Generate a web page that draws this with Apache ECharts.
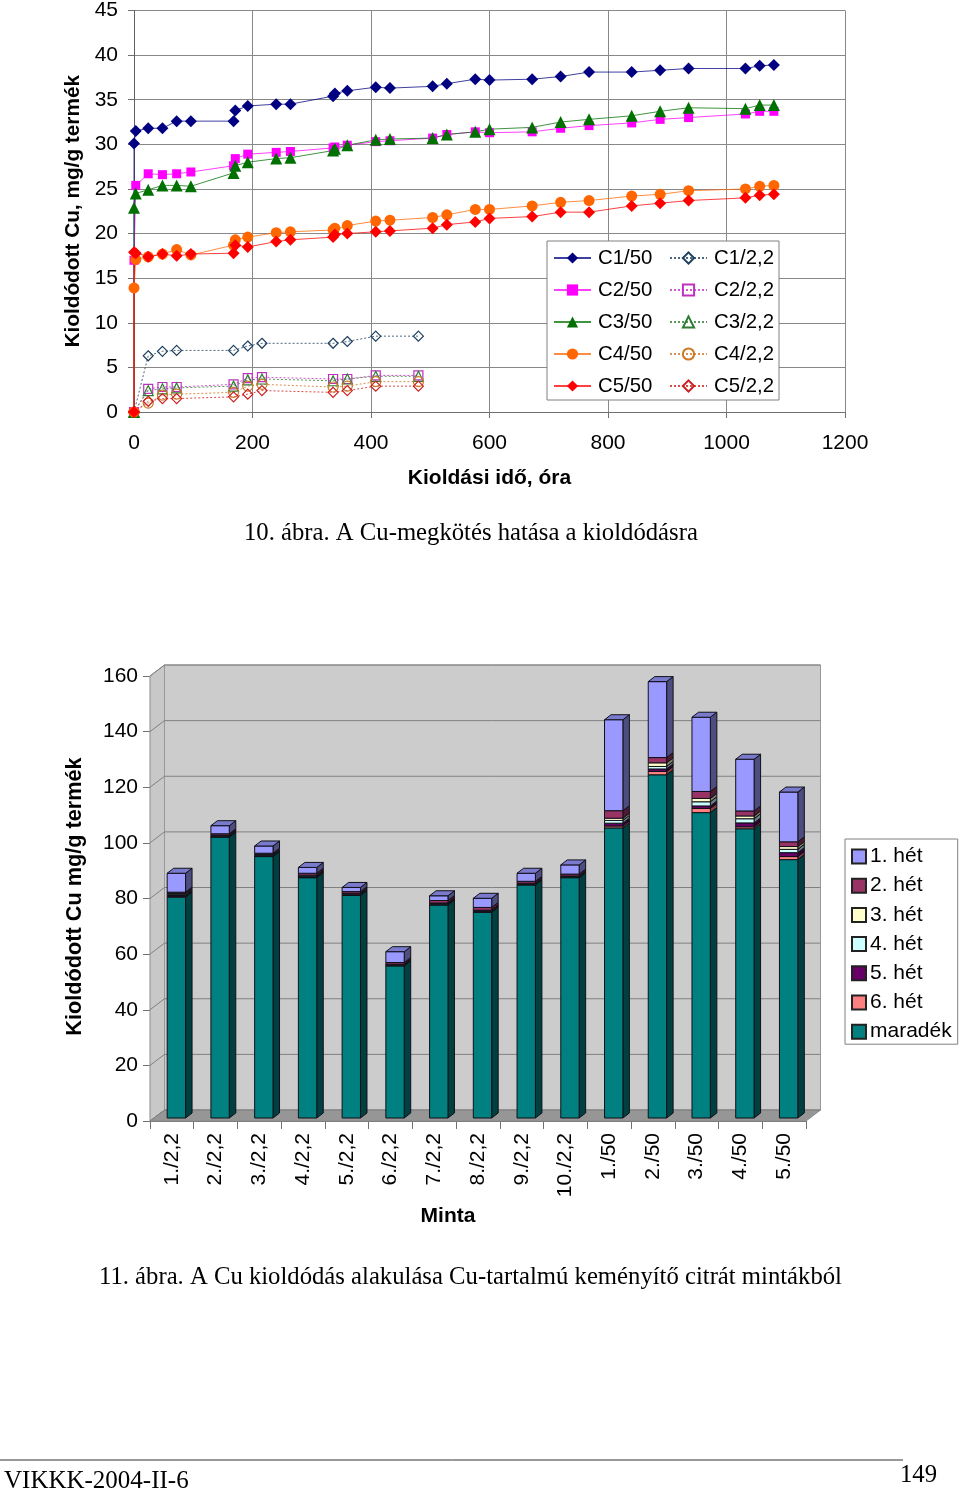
<!DOCTYPE html>
<html>
<head>
<meta charset="utf-8">
<script src="https://cdn.jsdelivr.net/npm/echarts@6/dist/echarts.min.js"></script>
<style>html,body{margin:0;padding:0;background:#fff}#c{width:960px;height:1489px}</style>
</head>
<body>
<div id="c"></div>
<script>
// ---- Chart 1 data ----
const timesLong = [0,0,3,24,48,72,96,168,171,192,240,264,336,339,360,408,432,504,528,576,600,672,720,768,840,888,936,1032,1056,1080];
const timesShort = [0,24,48,72,168,192,216,336,360,408,480];
const c1_50 = [0,30.1,31.5,31.8,31.8,32.6,32.6,32.6,33.8,34.3,34.5,34.5,35.4,35.7,36.0,36.4,36.3,36.5,36.8,37.3,37.2,37.3,37.6,38.1,38.1,38.3,38.5,38.5,38.8,38.9];
const c2_50 = [0,17.0,25.4,26.7,26.6,26.7,26.9,27.6,28.4,28.9,29.1,29.2,29.6,29.7,29.9,30.3,30.4,30.7,31.1,31.4,31.3,31.4,31.8,32.1,32.4,32.8,33.0,33.4,33.7,33.7];
const c3_50 = [0,22.9,24.5,24.9,25.4,25.4,25.3,26.8,27.6,28.0,28.4,28.5,29.3,29.5,29.9,30.5,30.6,30.7,31.1,31.4,31.7,31.9,32.5,32.8,33.2,33.7,34.1,34.0,34.4,34.4];
const c4_50 = [0,13.9,17.1,17.4,17.7,18.2,17.6,18.7,19.3,19.6,20.1,20.2,20.4,20.6,20.9,21.4,21.5,21.8,22.1,22.7,22.7,23.1,23.5,23.7,24.2,24.4,24.8,25.0,25.3,25.4];
const c5_50 = [0,17.9,17.8,17.4,17.7,17.5,17.7,17.8,18.7,18.5,19.1,19.3,19.6,19.9,20.0,20.2,20.3,20.6,21.0,21.3,21.7,21.9,22.4,22.4,23.1,23.4,23.7,24.0,24.3,24.4];
const c1_22 = [0,6.3,6.8,6.9,6.9,7.4,7.7,7.7,7.9,8.5,8.5];
const c2_22 = [0,2.6,2.8,2.8,3.1,3.8,3.9,3.7,3.7,4.1,4.1];
const c3_22 = [0,2.4,2.6,2.7,2.9,3.6,3.7,3.5,3.7,4.0,4.0];
const c4_22 = [0,1.0,1.9,2.0,2.2,2.9,3.1,2.8,2.9,3.4,3.4];
const c5_22 = [0,1.2,1.5,1.5,1.7,2.0,2.4,2.2,2.4,2.9,2.9];

// ---- Chart 2 data ----
const samples = ['1./2,2','2./2,2','3./2,2','4./2,2','5./2,2','6./2,2','7./2,2','8./2,2','9./2,2','10./2,2','1./50','2./50','3./50','4./50','5./50'];
const maradek = [79.4,101,94,86.4,80,54.7,76.6,74,83.8,86.4,104.3,123.4,109.8,104,92.9];
const het6 = [0.3,0.1,0.1,0.1,0.1,0.1,0.1,0.1,0.1,0.1,0.7,1.2,1.5,0.7,1.1];
const het5 = [0.3,0.2,0.2,0.2,0.2,0.1,0.2,0.2,0.1,0.1,1.0,0.9,0.9,1.4,1.4];
const het4 = [0.3,0.2,0.2,0.3,0.2,0.2,0.2,0.2,0.2,0.2,1.0,0.9,1.5,1.5,1.2];
const het3 = [0.4,0.2,0.2,0.3,0.3,0.2,0.2,0.2,0.2,0.2,0.8,1.3,1.2,1.0,1.0];
const het2 = [0.5,0.5,0.5,0.7,0.6,0.6,0.9,1.0,0.7,0.7,2.7,1.9,2.5,1.8,1.7];
const het1 = [6.8,2.9,2.6,2.1,1.5,3.9,1.7,3.3,2.9,3.3,32.7,27.3,26.7,18.6,17.9];
const wallTicks = [0,20,40,60,80,100,120,140,160];

const SANS = '"Liberation Sans", Arial, sans-serif';
const SERIF = '"Liberation Serif", "Times New Roman", serif';
const chart = echarts.init(document.getElementById('c'), null, {renderer:'canvas'});

function zip(xs, ys){ return xs.map((x,i)=>[x,ys[i]]); }
function solid(name, values, symbol, size, color){
  return {name, type:'line', xAxisIndex:0, yAxisIndex:0, clip:false, z:3, data:zip(timesLong,values),
    symbol, symbolSize:size, itemStyle:{color}, lineStyle:{color, width:1, opacity:0.75}, emphasis:{disabled:true}};
}
function hollow(name, values, symbol, size, color){
  return {name, type:'line', xAxisIndex:0, yAxisIndex:0, clip:false, z:2, data:zip(timesShort,values),
    symbol, symbolSize:size, itemStyle:{color:'rgba(255,255,255,0)', borderColor:color, borderWidth:1.2},
    lineStyle:{color, width:1, type:[2,2], opacity:0.8}, emphasis:{disabled:true}};
}
function shade(color, f){
  const c = echarts.color.parse(color);
  return 'rgb(' + Math.round(c[0]*f) + ',' + Math.round(c[1]*f) + ',' + Math.round(c[2]*f) + ')';
}

// depth of the 3D box, and of the bars inside it
const BOX_DX = 14.5, BOX_DY = 11, BAR_DX = 4.5, BAR_DY = 3, SIDE_DX = 6.5, SIDE_DY = 5;

function renderWall(params, api){
  const cs = params.coordSys;
  const l = cs.x, r = cs.x + cs.width, t = cs.y, b = cs.y + cs.height;
  const children = [];
  const v = api.value(1), y = api.coord([0,v])[1];
  if (params.dataIndex === 0){
    children.push({type:'polygon', shape:{points:[[l,t],[l+BOX_DX,t-BOX_DY],[l+BOX_DX,b-BOX_DY],[l,b]]}, style:{fill:'#c8c8c8', stroke:'#8c8c8c', lineWidth:1}});
    children.push({type:'rect', shape:{x:l+BOX_DX,y:t-BOX_DY,width:cs.width,height:cs.height}, style:{fill:'#cccccc', stroke:'#989898', lineWidth:1}});
    children.push({type:'polygon', shape:{points:[[l,b],[l+BOX_DX,b-BOX_DY],[r+BOX_DX,b-BOX_DY],[r,b]]}, style:{fill:'#969696', stroke:'#8c8c8c', lineWidth:1}});
  } else {
    children.push({type:'line', shape:{x1:l+BOX_DX,y1:y-BOX_DY,x2:r+BOX_DX,y2:y-BOX_DY}, style:{stroke:'#808080', lineWidth:1}});
    children.push({type:'line', shape:{x1:l,y1:y,x2:l+BOX_DX,y2:y-BOX_DY}, style:{stroke:'#808080', lineWidth:1}});
  }
  return {type:'group', children};
}
function renderBar(isTop, color){
  const side = shade(color, 0.5);
  const top = shade(color, 0.8);
  return function(params, api){
    const i = api.value(0);
    const w = api.size([1,0])[0] * 0.42;
    const p0 = api.coord([i, api.value(1)]);
    const p1 = api.coord([i, api.value(2)]);
    const x0 = p0[0] + BAR_DX - w/2, x1 = x0 + w;
    const y0 = p0[1] - BAR_DY, y1 = p1[1] - BAR_DY;
    const stroke = '#101018';
    const children = [
      {type:'polygon', shape:{points:[[x1,y1],[x1+SIDE_DX,y1-SIDE_DY],[x1+SIDE_DX,y0-SIDE_DY],[x1,y0]]}, style:{fill:side, stroke, lineWidth:1}},
      {type:'rect', shape:{x:x0,y:y1,width:w,height:y0-y1}, style:{fill:color, stroke, lineWidth:1}}
    ];
    if (isTop) children.push({type:'polygon', shape:{points:[[x0,y1],[x0+SIDE_DX,y1-SIDE_DY],[x1+SIDE_DX,y1-SIDE_DY],[x1,y1]]}, style:{fill:top, stroke, lineWidth:1}});
    return {type:'group', children};
  };
}
const stackDefs = [
  ['maradék', maradek, '#008080'],
  ['6. hét', het6, '#FF8080'],
  ['5. hét', het5, '#660066'],
  ['4. hét', het4, '#CCFFFF'],
  ['3. hét', het3, '#FFFFCC'],
  ['2. hét', het2, '#993366'],
  ['1. hét', het1, '#9999FF']
];
const running = samples.map(()=>0);
const stackSeries = stackDefs.map(([name, values, color], k)=>{
  const data = values.map((v,i)=>{ const s = running[i]; running[i] = s + v; return [i, s, running[i]]; });
  return {name, type:'custom', xAxisIndex:1, yAxisIndex:1, z:3, data, encode:{x:0,y:[1,2]},
    itemStyle:{color, borderColor:'#222', borderWidth:1}, renderItem:renderBar(k===stackDefs.length-1, color), emphasis:{disabled:true}};
});

const option = {
  animation:false,
  backgroundColor:'#ffffff',
  textStyle:{fontFamily:SANS, color:'#000'},
  title:[
    {text:'10. ábra. A Cu-megkötés hatása a kioldódásra', left:244, top:521, padding:0, textStyle:{fontFamily:SERIF, fontSize:24.7, fontWeight:'normal', color:'#000'}},
    {text:'11. ábra. A Cu kioldódás alakulása Cu-tartalmú keményítő citrát mintákból', left:99, top:1265, padding:0, textStyle:{fontFamily:SERIF, fontSize:24.7, fontWeight:'normal', color:'#000'}},
    {text:'VIKKK-2004-II-6', left:4, top:1469, padding:0, textStyle:{fontFamily:SERIF, fontSize:25, fontWeight:'normal', color:'#000'}},
    {text:'149', left:900, top:1463, padding:0, textStyle:{fontFamily:SERIF, fontSize:24.7, fontWeight:'normal', color:'#000'}}
  ],
  graphic:[
    {type:'rect', z:3, shape:{x:547,y:241,width:232,height:159}, style:{fill:'#fff', stroke:'#808080', lineWidth:1}},
    {type:'line', z:3, shape:{x1:0,y1:1460,x2:903,y2:1460}, style:{stroke:'#333', lineWidth:1}}
  ],
  legend:[
    {left:553, top:248, orient:'vertical', itemWidth:37, itemHeight:14, itemGap:12, padding:0, selectedMode:false, z:5,
      data:['C1/50','C2/50','C3/50','C4/50','C5/50'], textStyle:{fontFamily:SANS, fontSize:20.4, color:'#000', padding:[0,0,0,2]}},
    {left:669, top:248, orient:'vertical', itemWidth:37, itemHeight:14, itemGap:12, padding:0, selectedMode:false, z:5,
      data:['C1/2,2','C2/2,2','C3/2,2','C4/2,2','C5/2,2'], textStyle:{fontFamily:SANS, fontSize:20.4, color:'#000', padding:[0,0,0,2]}},
    {left:845, top:839, orient:'vertical', itemWidth:14, itemHeight:14, itemGap:8.2, padding:[7,6,2,6], selectedMode:false, icon:'rect', z:5,
      backgroundColor:'#fff', borderColor:'#808080', borderWidth:1,
      data:['1. hét','2. hét','3. hét','4. hét','5. hét','6. hét','maradék'], textStyle:{fontFamily:SANS, fontSize:21, color:'#000', padding:[0,0,0,-1]}}
  ],
  grid:[
    {left:134, top:10, width:711, height:402},
    {left:150, top:676, width:656, height:445}
  ],
  xAxis:[
    {gridIndex:0, type:'value', min:0, max:1200, interval:200,
      axisLine:{show:true, lineStyle:{color:'#707070'}}, axisTick:{show:true, length:6, lineStyle:{color:'#707070'}},
      axisLabel:{fontFamily:SANS, fontSize:21, color:'#000', margin:21, formatter:(v)=>String(v)},
      splitLine:{show:true, lineStyle:{color:'#888888'}},
      name:'Kioldási idő, óra', nameLocation:'middle', nameGap:56, nameTextStyle:{fontFamily:SANS, fontSize:21, fontWeight:'bold', color:'#000'}},
    {gridIndex:1, type:'category', data:samples, boundaryGap:true,
      axisLine:{show:true, lineStyle:{color:'#707070'}}, axisTick:{show:true, length:8, lineStyle:{color:'#707070'}},
      axisLabel:{fontFamily:SANS, fontSize:21, color:'#000', rotate:90, margin:12, interval:0},
      splitLine:{show:false},
      name:'Minta', nameLocation:'middle', nameGap:85, nameTextStyle:{fontFamily:SANS, fontSize:21, fontWeight:'bold', color:'#000', padding:[0,60,0,0]}}
  ],
  yAxis:[
    {gridIndex:0, type:'value', min:0, max:45, interval:5,
      axisLine:{show:true, lineStyle:{color:'#606060'}}, axisTick:{show:true, length:6, lineStyle:{color:'#707070'}},
      axisLabel:{fontFamily:SANS, fontSize:21, color:'#000', margin:16, padding:[2,0,0,0]},
      splitLine:{show:true, lineStyle:{color:'#888888'}},
      name:'Kioldódott Cu, mg/g termék', nameLocation:'middle', nameGap:49, nameTextStyle:{fontFamily:SANS, fontSize:20.8, fontWeight:'bold', color:'#000'}},
    {gridIndex:1, type:'value', min:0, max:160, interval:20,
      axisLine:{show:true, lineStyle:{color:'#707070'}}, axisTick:{show:true, length:7, lineStyle:{color:'#707070'}},
      axisLabel:{fontFamily:SANS, fontSize:21, color:'#000', margin:12, padding:[2,0,0,0]},
      splitLine:{show:false},
      name:'Kioldódott Cu mg/g termék', nameLocation:'middle', nameGap:64, nameTextStyle:{fontFamily:SANS, fontSize:21.7, fontWeight:'bold', color:'#000', padding:[0,0,0,4]}}
  ],
  series:[
    solid('C1/50', c1_50, 'diamond', 12, '#000080'),
    solid('C2/50', c2_50, 'rect', 9, '#FF00FF'),
    solid('C3/50', c3_50, 'triangle', 12, '#007000'),
    solid('C4/50', c4_50, 'circle', 11, '#FF6600'),
    solid('C5/50', c5_50, 'diamond', 12, '#FF0000'),
    hollow('C1/2,2', c1_22, 'diamond', 10, '#1F4060'),
    hollow('C2/2,2', c2_22, 'rect', 9, '#C030C0'),
    hollow('C3/2,2', c3_22, 'triangle', 10, '#2E7D32'),
    hollow('C4/2,2', c4_22, 'circle', 10, '#CC7722'),
    hollow('C5/2,2', c5_22, 'diamond', 10, '#CC2020'),
    {type:'custom', xAxisIndex:1, yAxisIndex:1, z:1, silent:true, data:[[0,0]].concat(wallTicks.map(v=>[0,v])), encode:{x:0,y:1}, renderItem:renderWall},
    ...stackSeries
  ]
};
chart.setOption(option);
</script>
</body>
</html>
